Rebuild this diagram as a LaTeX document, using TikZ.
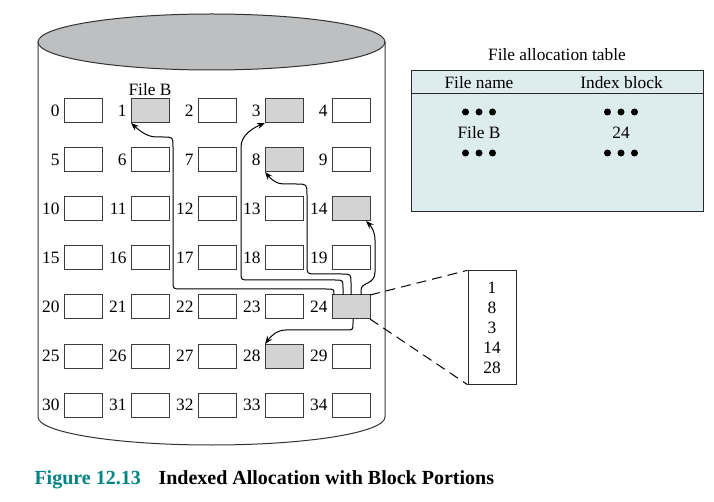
\documentclass[tikz,border=0pt]{standalone}
\usepackage{fontspec}
\setmainfont{Liberation Serif}
\usetikzlibrary{positioning,arrows.meta}

\tikzset{every picture/.style={line width=0.75pt}}
\tikzset{
  blk/.style={draw={rgb, 255:red, 60; green, 60; blue, 60 }, minimum width=28.5pt, minimum height=18pt, inner sep=0pt, outer sep=0pt},
  used/.style={blk, fill={rgb, 255:red, 211; green, 211; blue, 212 }},
  num/.style={label={[inner sep=0.75pt]left:#1}},
  flow/.style={-{Stealth[length=6pt,width=4.5pt]}},
  txt/.style={inner sep=0.75pt, font=\fontsize{13}{15}\selectfont}
}

\begin{document}
\begin{tikzpicture}[x=0.75pt,y=0.75pt,yscale=-1,xscale=1, label distance=2.2pt, every label/.style={font=\fontsize{13}{15}\selectfont}]
\useasboundingbox (0,0) rectangle (714,502);

%Shape: Can
\draw [color={rgb, 255:red, 50; green, 50; blue, 50 }]   (38,42) -- (38,417) arc [start angle=180, end angle=0, x radius=173.5, y radius=28] -- (385,42) ;
%Shape: Ellipse
\draw [color={rgb, 255:red, 50; green, 50; blue, 50 }  ,fill={rgb, 255:red, 190; green, 191; blue, 193 }]   (211.5,42) ellipse [x radius=173.5, y radius=28] ;

%Blocks row 0
\node [blk, num=0] (b0) at (83,111) {};
\node [used, num=1] (b1) at (150,111) {};
\node [blk, num=2] (b2) at (217,111) {};
\node [used, num=3] (b3) at (284,111) {};
\node [blk, num=4] (b4) at (351,111) {};
%Blocks row 1
\node [blk, num=5] (b5) at (83,160) {};
\node [blk, num=6] (b6) at (150,160) {};
\node [blk, num=7] (b7) at (217,160) {};
\node [used, num=8] (b8) at (284,160) {};
\node [blk, num=9] (b9) at (351,160) {};
%Blocks row 2
\node [blk, num=10] (b10) at (83,209) {};
\node [blk, num=11] (b11) at (150,209) {};
\node [blk, num=12] (b12) at (217,209) {};
\node [blk, num=13] (b13) at (284,209) {};
\node [used, num=14] (b14) at (351,209) {};
%Blocks row 3
\node [blk, num=15] (b15) at (83,258) {};
\node [blk, num=16] (b16) at (150,258) {};
\node [blk, num=17] (b17) at (217,258) {};
\node [blk, num=18] (b18) at (284,258) {};
\node [blk, num=19] (b19) at (351,258) {};
%Blocks row 4
\node [blk, num=20] (b20) at (83,307) {};
\node [blk, num=21] (b21) at (150,307) {};
\node [blk, num=22] (b22) at (217,307) {};
\node [blk, num=23] (b23) at (284,307) {};
\node [used, num=24] (b24) at (351,307) {};
%Blocks row 5
\node [blk, num=25] (b25) at (83,356) {};
\node [blk, num=26] (b26) at (150,356) {};
\node [blk, num=27] (b27) at (217,356) {};
\node [used, num=28] (b28) at (284,356) {};
\node [blk, num=29] (b29) at (351,356) {};
%Blocks row 6
\node [blk, num=30] (b30) at (83,405) {};
\node [blk, num=31] (b31) at (150,405) {};
\node [blk, num=32] (b32) at (217,405) {};
\node [blk, num=33] (b33) at (284,405) {};
\node [blk, num=34] (b34) at (351,405) {};

% Text Node
\node [txt, above=1.5pt of b1] (fileb) {File B};

%Curve Lines
\draw [flow]   (b24.north west) ++(2,0) .. controls (334,289) .. (326,289) -- (181,289) .. controls (173,289) .. (173,281) -- (173,147) .. controls (173,137) .. (163,137) -- (157,137) .. controls (147,137) and (140,131) .. (b1.south west) ;
\draw [flow]   (b24.north west) ++(11,0) -- (343,288) .. controls (343,280) .. (335,280) -- (249,280) .. controls (241,280) .. (241,272) -- (241,147) .. controls (241,135) and (253,128) .. (b3.south west) ;
\draw [flow]   (b24.north west) ++(19,0) -- (351,283) .. controls (351,274) .. (342,274) -- (316,274) .. controls (307,274) .. (307,265) -- (307,195) .. controls (307,184) .. (296,184) -- (283,184) .. controls (276,184) and (270,178) .. (b8.south west) ;
\draw [flow]   (b24.north west) ++(29,0) -- (361,290) .. controls (361,282) and (375,285) .. (375,272) -- (375,240) .. controls (375,231) and (370,225) .. ([xshift=-3pt]b14.south east) ;
\draw [flow]   (b24.south west) ++(21,0) -- (353,323) .. controls (353,330) .. (346,330) -- (286,330) .. controls (277,330) and (271,336) .. (b28.north west) ;

%Shape: Rectangle
\draw [color={rgb, 255:red, 40; green, 40; blue, 40 }  ,fill={rgb, 255:red, 221; green, 236; blue, 237 }]   (411,71) rectangle (703,212) ;
%Straight Lines
\draw [color={rgb, 255:red, 40; green, 40; blue, 40 }]   (411,94) -- (703,94) ;

% Text Node
\node [txt] (fat) at (557,55) {File allocation table};
\node [txt] (hname) at (479,83) {File name};
\node [txt] (hindex) at (621.5,83) {Index block};
\node [txt] (nameb) at (479,133) {File B};
\node [txt] (idxb) at (621,133) {24};

%Dots
\fill (465.5,112) circle (3.5) (479,112) circle (3.5) (492.5,112) circle (3.5) ;
\fill (607.5,112) circle (3.5) (621,112) circle (3.5) (634.5,112) circle (3.5) ;
\fill (465.5,153) circle (3.5) (479,153) circle (3.5) (492.5,153) circle (3.5) ;
\fill (607.5,153) circle (3.5) (621,153) circle (3.5) (634.5,153) circle (3.5) ;

%Index block
\node [draw={rgb, 255:red, 40; green, 40; blue, 40 }, minimum width=36pt, minimum height=85pt, inner sep=0pt, align=center, font=\fontsize{13}{15}\selectfont] (idx) at (492,327.5) {1\\8\\3\\14\\28};

%Dashed Lines
\draw [dash pattern=on 7.5pt off 4.5pt]   (b24.north east) -- (idx.north west) ;
\draw [dash pattern=on 7.5pt off 4.5pt]   (b24.south east) -- (idx.south west) ;

% Text Node
\node [anchor=base west, inner sep=0pt, font=\fontsize{15}{18}\selectfont\bfseries, text={rgb, 255:red, 0; green, 132; blue, 134 }] (capnum) at (34,484) {Figure 12.13};
\node [anchor=base west, inner sep=0pt, font=\fontsize{15}{18}\selectfont\bfseries] (captext) at (158,484) {Indexed Allocation with Block Portions};

\end{tikzpicture}
\end{document}
